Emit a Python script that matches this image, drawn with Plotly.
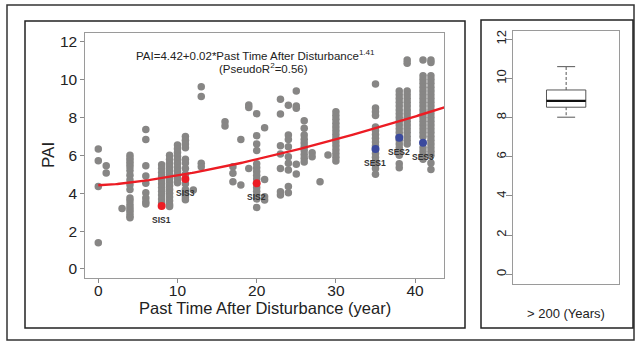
import numpy as np
import plotly.graph_objects as go

# Observed plots: year after disturbance and plant area index
year_obs = (
    [0] * 4 + [1] * 2 + [3] + [4] * 18 + [6] * 9 + [8] * 11 + [9] * 15 + [10] * 11
    + [11] * 13 + [12] + [13] * 4 + [16] * 2 + [17] * 3 + [18] * 2 + [19] * 3
    + [20] * 14 + [21] * 4 + [23] * 7 + [24] * 9 + [25] * 5 + [26] * 10 + [27] * 2
    + [28] + [29] + [30] * 14 + [35] * 16 + [38] * 20 + [39] * 17 + [41] * 22 + [42] * 26
)
pai_obs = [
    6.33, 5.72, 4.35, 1.39,
    5.45, 5.07,
    3.2,
    6.0, 5.85, 5.7, 5.55, 5.4, 5.2, 4.95, 4.7, 4.45, 4.2, 3.75, 3.6, 3.4, 3.25, 3.1, 2.95, 2.8, 2.7,
    7.36, 6.83, 5.45, 4.91, 4.52, 4.03, 3.75, 3.55, 3.43,
    5.5, 5.3, 5.1, 4.9, 4.7, 4.5, 4.3, 4.1, 3.9, 3.7, 3.5,
    6.0, 5.8, 5.6, 5.4, 5.2, 5.0, 4.8, 4.6, 4.4, 4.2, 4.0, 3.8, 3.6, 3.4, 3.3,
    6.55, 6.35, 6.15, 5.95, 5.75, 5.55, 5.35, 5.15, 4.95, 4.75, 4.55,
    7.0, 6.8, 6.6, 6.4, 5.8, 5.6, 5.3, 5.0, 4.5, 4.2, 4.0, 3.8, 3.65,
    4.17,
    9.62, 9.11, 5.58, 5.4,
    7.78, 7.55,
    5.4, 5.05, 4.6,
    6.84, 4.43,
    8.66, 8.53, 5.31,
    8.2, 7.04, 6.6, 6.25, 5.55, 5.35, 5.15, 4.95, 4.75, 4.3, 4.1, 3.9, 3.7, 3.25,
    7.46, 4.73, 3.82, 3.64,
    8.96, 8.18, 6.51, 6.07, 5.31, 4.08, 3.9,
    8.64, 7.07, 6.84, 6.46, 5.93, 5.58, 5.23, 4.35, 4.03,
    9.4, 8.6, 8.48, 5.53, 5.01,
    7.83, 7.43, 7.07, 6.85, 6.65, 6.45, 6.25, 6.05, 5.85, 5.65,
    6.14, 5.93,
    4.61,
    6.02,
    8.3, 8.1, 7.9, 7.7, 7.5, 7.3, 7.1, 6.9, 6.7, 6.5, 6.3, 6.1, 5.9, 5.7,
    9.77, 8.5, 8.3, 8.1, 7.5, 7.3, 7.1, 6.9, 6.7, 6.5, 6.1, 5.9, 5.7, 5.5, 5.3, 5.0,
    9.4, 9.2, 9.0, 8.8, 8.6, 8.4, 8.2, 8.0, 7.8, 7.6, 7.4, 7.2, 7.0, 6.8, 6.6, 6.4, 6.2, 6.0, 5.55, 5.35,
    11.03, 10.86, 9.4, 9.2, 9.0, 8.8, 8.6, 8.4, 8.2, 8.0, 7.8, 7.6, 7.4, 7.2, 7.0, 6.8, 6.6,
    11.03, 10.2, 10.0, 9.8, 9.6, 9.4, 9.2, 9.0, 8.8, 8.6, 8.4, 8.2, 8.0, 7.8, 7.6, 7.4, 7.2, 7.0,
    6.4, 6.2, 6.0, 5.8,
    11.03, 10.9, 10.2, 10.0, 9.8, 9.6, 9.4, 9.2, 9.0, 8.8, 8.6, 8.4, 8.2, 8.0, 7.8, 7.6, 7.4, 7.2,
    7.0, 6.8, 6.6, 6.4, 6.2, 6.0, 5.6, 5.25,
]

# Highlighted sites
sis_names = ["SIS1", "SIS3", "SIS2"]
sis_year = [8, 11, 20]
sis_pai = [3.33, 4.75, 4.52]
ses_names = ["SES1", "SES2", "SES3"]
ses_year = [35, 38, 41]
ses_pai = [6.33, 6.93, 6.67]

# Fitted model PAI = a + b * t^c
fit_a, fit_b, fit_c = 4.42, 0.02, 1.41
fit_r2 = 0.56

# Old-growth (> 200 years) box summary
old_label = "> 200 (Years)"
old_lower, old_q1, old_median, old_q3, old_upper = 8.02, 8.53, 8.85, 9.41, 10.6

W, H = 635, 341
FONT = "Liberation Sans, Arial, sans-serif"
GRAY = "#878685"
RED = "#ec1c24"
BLUE = "#3b4a9e"


def px_x(p):
    return p / W


def px_y(p):
    return 1 - p / H


fig = go.Figure()

fig.add_trace(go.Scatter(
    x=year_obs, y=pai_obs, mode="markers",
    marker=dict(size=7.5, color=GRAY, line=dict(width=0)),
    xaxis="x", yaxis="y", showlegend=False, hoverinfo="x+y",
))

t = np.linspace(0, 43.7, 200)
fig.add_trace(go.Scatter(
    x=t, y=fit_a + fit_b * t ** fit_c, mode="lines",
    line=dict(color=RED, width=2.4), xaxis="x", yaxis="y", showlegend=False,
))

fig.add_trace(go.Scatter(
    x=sis_year, y=sis_pai, mode="markers",
    marker=dict(size=8, color=RED), xaxis="x", yaxis="y", showlegend=False,
))
fig.add_trace(go.Scatter(
    x=ses_year, y=ses_pai, mode="markers",
    marker=dict(size=8, color=BLUE), xaxis="x", yaxis="y", showlegend=False,
))

annotations = []
for names, xs, ys in ((sis_names, sis_year, sis_pai), (ses_names, ses_year, ses_pai)):
    for n, xv, yv in zip(names, xs, ys):
        annotations.append(dict(
            x=xv, y=yv, xref="x", yref="y", text=f"<b>{n}</b>", showarrow=False,
            yshift=-7, yanchor="top", xanchor="center",
            font=dict(family=FONT, size=8.5, color="#333333"),
        ))

annotations.append(dict(
    x=19.9, y=11.3, xref="x", yref="y", showarrow=False, xanchor="center", yanchor="middle",
    text=f"PAI={fit_a}+{fit_b}*Past Time After Disturbance<sup>{fit_c}</sup>",
    font=dict(family=FONT, size=11.5, color="#222222"),
))
annotations.append(dict(
    x=20.9, y=10.62, xref="x", yref="y", showarrow=False, xanchor="center", yanchor="middle",
    text=f"(PseudoR<sup>2</sup>={fit_r2})",
    font=dict(family=FONT, size=11.5, color="#222222"),
))

# Axis titles of the scatter panel
annotations.append(dict(
    x=px_x(264.7), y=px_y(308), xref="paper", yref="paper", showarrow=False,
    xanchor="center", yanchor="middle",
    text="Past Time After Disturbance (year)", font=dict(family=FONT, size=16.5, color="#222222"),
))
annotations.append(dict(
    x=px_x(48), y=px_y(155), xref="paper", yref="paper", showarrow=False, textangle=-90,
    xanchor="center", yanchor="middle",
    text="PAI", font=dict(family=FONT, size=17, color="#222222"),
))

# Box for the old-growth stands, drawn from the summary values
bx, bw, cw = 1.0, 0.372, 0.17
fig.add_trace(go.Scatter(
    x=[bx - bw / 2, bx + bw / 2, bx + bw / 2, bx - bw / 2, bx - bw / 2],
    y=[old_q1, old_q1, old_q3, old_q3, old_q1], mode="lines",
    line=dict(color="#555555", width=1), xaxis="x2", yaxis="y2", showlegend=False,
))
fig.add_trace(go.Scatter(
    x=[bx - bw / 2, bx + bw / 2], y=[old_median, old_median], mode="lines",
    line=dict(color="#111111", width=2.2), xaxis="x2", yaxis="y2", showlegend=False,
))
for y0, y1 in ((old_q3, old_upper), (old_q1, old_lower)):
    fig.add_trace(go.Scatter(
        x=[bx, bx], y=[y0, y1], mode="lines",
        line=dict(color="#555555", width=1, dash="3px,2px"),
        xaxis="x2", yaxis="y2", showlegend=False,
    ))
    fig.add_trace(go.Scatter(
        x=[bx - cw / 2, bx + cw / 2], y=[y1, y1], mode="lines",
        line=dict(color="#555555", width=1), xaxis="x2", yaxis="y2", showlegend=False,
    ))

annotations.append(dict(
    x=bx, y=px_y(313), xref="x2", yref="paper", text=old_label, showarrow=False,
    xanchor="center", yanchor="middle",
    font=dict(family=FONT, size=13, color="#222222"),
))

axis_common = dict(
    showgrid=False, zeroline=False, showline=True, mirror=True, linecolor="#9a9a9a",
    linewidth=1, ticks="outside", tickcolor="#8a8a8a", ticklen=4, tickwidth=1,
)

# Frames around the panels
shapes = [
    dict(type="rect", xref="paper", yref="paper", x0=px_x(7), x1=px_x(634),
         y0=px_y(340), y1=px_y(5), line=dict(color="#333333", width=1.5)),
    dict(type="rect", xref="paper", yref="paper", x0=px_x(25), x1=px_x(465),
         y0=px_y(328), y1=px_y(21), line=dict(color="#222222", width=1.5)),
    dict(type="rect", xref="paper", yref="paper", x0=px_x(481), x1=px_x(633),
         y0=px_y(328), y1=px_y(20), line=dict(color="#222222", width=1.5)),
]

fig.update_layout(
    width=W, height=H, margin=dict(l=0, r=0, t=0, b=0),
    paper_bgcolor="white", plot_bgcolor="white",
    font=dict(family=FONT, color="#222222"),
    xaxis=dict(
        **axis_common, domain=[px_x(85.3), px_x(444)], range=[-1.64, 43.65],
        tickvals=[0, 10, 20, 30, 40], tickfont=dict(size=15.5), anchor="y",
        ticklabelstandoff=-5,
    ),
    yaxis=dict(
        **axis_common, domain=[px_y(277.7), px_y(32.7)], range=[-0.46, 12.475],
        tickvals=[0, 2, 4, 6, 8, 10, 12], tickfont=dict(size=15.5), anchor="x",
    ),
    xaxis2=dict(
        **{**axis_common, "ticks": ""}, domain=[px_x(513.3), px_x(619)], range=[0.5, 1.5],
        showticklabels=False, anchor="y2",
    ),
    yaxis2=dict(
        **{**axis_common, "ticklen": 6}, domain=[px_y(284.3), px_y(31)], range=[-0.51, 12.42],
        tickvals=[0, 2, 4, 6, 8, 10, 12], tickangle=-90, tickfont=dict(size=13),
        anchor="x2", ticklabelstandoff=-5,
    ),
    annotations=annotations, shapes=shapes,
)

fig.write_html("out.html")
